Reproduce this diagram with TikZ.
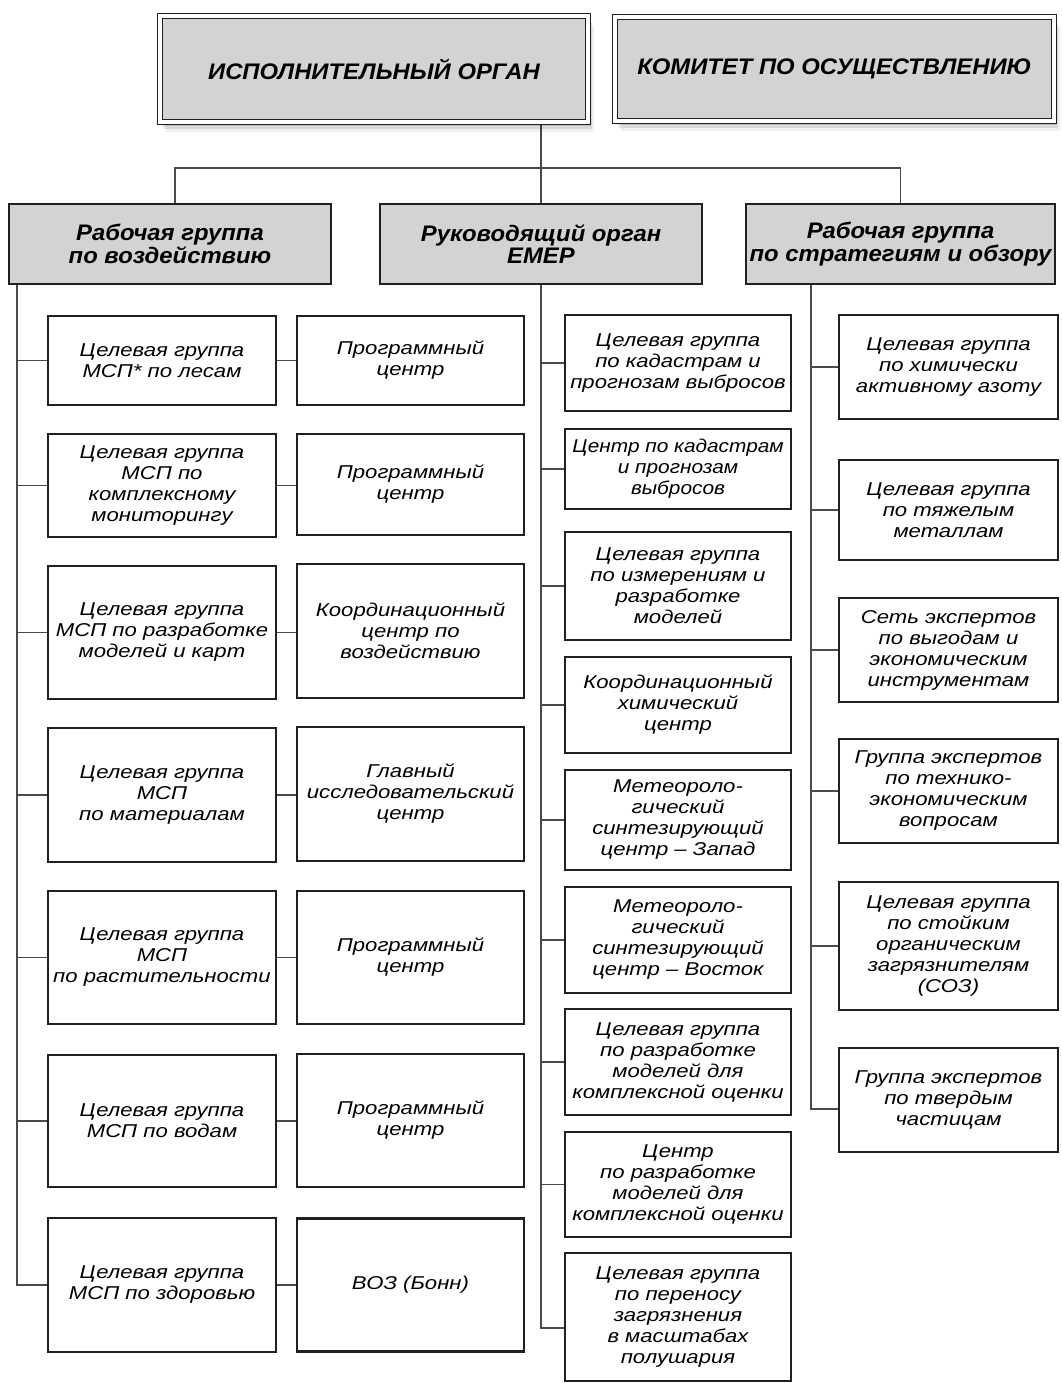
\documentclass[tikz,border=0pt]{standalone}
\usepackage{fontspec}
\setmainfont{Liberation Sans}
\newfontfamily\wideA{Liberation Sans}[FakeStretch=1.19]
\newfontfamily\wideN{Liberation Sans}[FakeStretch=1.12]
\newfontfamily\wideB{Liberation Sans}[FakeStretch=1.06]
\usetikzlibrary{shadows}
\definecolor{dark}{HTML}{231F20}
\definecolor{boxgray}{HTML}{D1D3D4}
\definecolor{linegray}{HTML}{4A4A4A}
\pgfdeclarelayer{background}
\pgfsetlayers{background,main}
\tikzset{
  leaf/.style={draw=dark, line width=2.6pt, fill=white, inner sep=0pt, outer sep=0pt,
    align=center, font=\wideA\itshape\fontsize{18.6}{21}\selectfont},
  narrowleaf/.style={leaf, font=\wideN\itshape\fontsize{18.6}{21}\selectfont},
  grp/.style={draw=dark, line width=2.8pt, fill=boxgray, inner sep=0pt, outer sep=0pt,
    align=center, font=\wideB\bfseries\itshape\fontsize{22.5}{22.5}\selectfont},
  topshadow/.style={
    general shadow={shadow xshift=2pt, shadow yshift=-4pt, fill=black, opacity=0.10},
    general shadow={shadow xshift=4pt, shadow yshift=-7pt, fill=black, opacity=0.10},
    general shadow={shadow xshift=6pt, shadow yshift=-10pt, fill=black, opacity=0.06}},
  topbox/.style={topshadow, draw=dark, line width=1.1pt, double=white, double distance=3.6pt,
    fill=boxgray, inner sep=0pt, outer sep=0pt, align=center,
    font=\wideB\bfseries\itshape\fontsize{22.5}{22}\selectfont},
  conn/.style={draw=linegray, line width=1.3pt},
}
\begin{document}
\begin{tikzpicture}[x=1pt, y=-1pt]
\useasboundingbox (0,0) rectangle (1061,1383);

% top level
\node[topbox, minimum width=428.2pt, minimum height=106.2pt] (exec) at (374,69) {ИСПОЛНИТЕЛЬНЫЙ ОРГАН};
\node[topbox, minimum width=439.2pt, minimum height=104.2pt] (comm) at (834.5,69) {КОМИТЕТ ПО ОСУЩЕСТВЛЕНИЮ};

% second level
\node[grp, minimum width=322pt, minimum height=80pt] (A) at (170,244) {Рабочая группа\\по воздействию};
\node[grp, minimum width=322pt, minimum height=80pt] (B) at (541,244) {Руководящий орган\\ЕМЕР};
\node[grp, minimum width=309pt, minimum height=80pt] (C) at (900.5,244) {Рабочая группа\\по стратегиям и обзору};

% left column
\node[leaf, minimum width=228pt, minimum height=89pt] (L1) at (162,360.5) {Целевая группа\\МСП* по лесам};
\node[leaf, minimum width=228pt, minimum height=103pt] (L2) at (162,485.5) {Целевая группа\\МСП по\\комплексному\\мониторингу};
\node[leaf, minimum width=228pt, minimum height=133pt] (L3) at (162,632.5) {Целевая группа\\МСП по разработке\\моделей и карт};
\node[leaf, minimum width=228pt, minimum height=134pt] (L4) at (162,795) {Целевая группа\\МСП\\по материалам};
\node[leaf, minimum width=228pt, minimum height=133pt] (L5) at (162,957.5) {Целевая группа\\МСП\\по растительности};
\node[leaf, minimum width=228pt, minimum height=132pt] (L6) at (162,1121) {Целевая группа\\МСП по водам};
\node[leaf, minimum width=228pt, minimum height=134pt] (L7) at (162,1285) {Целевая группа\\МСП по здоровью};

\node[leaf, minimum width=227pt, minimum height=89pt] (P1) at (410.5,360.5) {Программный\\центр};
\node[leaf, minimum width=227pt, minimum height=101pt] (P2) at (410.5,484.5) {Программный\\центр};
\node[leaf, minimum width=227pt, minimum height=134pt] (P3) at (410.5,631) {Координационный\\центр по\\воздействию};
\node[leaf, minimum width=227pt, minimum height=134pt] (P4) at (410.5,794) {Главный\\исследовательский\\центр};
\node[leaf, minimum width=227pt, minimum height=133pt] (P5) at (410.5,957.5) {Программный\\центр};
\node[leaf, minimum width=227pt, minimum height=133pt] (P6) at (410.5,1120.5) {Программный\\центр};
\node[leaf, minimum width=227pt, minimum height=133pt] (P7) at (410.5,1285) {ВОЗ (Бонн)};

% middle column
\node[leaf, minimum width=226pt, minimum height=96pt] (M1) at (678,363) {Целевая группа\\по кадастрам и\\прогнозам выбросов};
\node[narrowleaf, minimum width=226pt, minimum height=80pt] (M2) at (678,469) {Центр по кадастрам\\и прогнозам\\выбросов};
\node[leaf, minimum width=226pt, minimum height=108pt] (M3) at (678,586) {Целевая группа\\по измерениям и\\разработке\\моделей};
\node[leaf, minimum width=226pt, minimum height=96pt] (M4) at (678,705) {Координационный\\химический\\центр};
\node[leaf, minimum width=226pt, minimum height=100pt] (M5) at (678,820) {Метеороло-\\гический\\синтезирующий\\центр – Запад};
\node[leaf, minimum width=226pt, minimum height=106pt] (M6) at (678,940) {Метеороло-\\гический\\синтезирующий\\центр – Восток};
\node[leaf, minimum width=226pt, minimum height=106pt] (M7) at (678,1062) {Целевая группа\\по разработке\\моделей для\\комплексной оценки};
\node[leaf, minimum width=226pt, minimum height=105pt] (M8) at (678,1184.5) {Центр\\по разработке\\моделей для\\комплексной оценки};
\node[leaf, minimum width=226pt, minimum height=128pt] (M9) at (678,1317) {Целевая группа\\по переносу\\загрязнения\\в масштабах\\полушария};

% right column
\node[leaf, minimum width=219pt, minimum height=104pt] (R1) at (948.5,367) {Целевая группа\\по химически\\активному азоту};
\node[leaf, minimum width=219pt, minimum height=100pt] (R2) at (948.5,510) {Целевая группа\\по тяжелым\\металлам};
\node[leaf, minimum width=219pt, minimum height=104pt] (R3) at (948.5,650) {Сеть экспертов\\по выгодам и\\экономическим\\инструментам};
\node[leaf, minimum width=219pt, minimum height=104pt] (R4) at (948.5,791) {Группа экспертов\\по технико-\\экономическим\\вопросам};
\node[leaf, minimum width=219pt, minimum height=128pt] (R5) at (948.5,946) {Целевая группа\\по стойким\\органическим\\загрязнителям\\(СОЗ)};
\node[leaf, minimum width=219pt, minimum height=104pt] (R6) at (948.5,1100) {Группа экспертов\\по твердым\\частицам};

% hubs
\coordinate (hub) at (541,168);
\coordinate (ltop) at ([xshift=8pt]A.south west);
\coordinate (mtop) at (B.south);
\coordinate (rtop) at ([xshift=65pt]C.south west);

\begin{pgfonlayer}{background}
\fill[white] (0,0) rectangle (1061,1383);
\draw[conn] (exec.south -| B.north) -- (B.north);
\draw[conn] ([xshift=5pt]A.north) |- (hub) -| (C.north);
% left trunk
\draw[conn] (ltop) |- (L7.west);
\foreach \n in {L1,L2,L3,L4,L5,L6} { \draw[conn] (\n.west) -- (\n.west -| ltop); }
\foreach \n/\m in {L1/P1,L2/P2,L3/P3,L4/P4,L5/P5,L6/P6,L7/P7} { \draw[conn] (\n.east) -- (\n.east -| \m.west); }
% middle trunk
\draw[conn] (mtop) |- ([yshift=-11pt]M9.west);
\foreach \n in {M1,M2,M3,M4,M5,M6,M7,M8} { \draw[conn] (\n.west) -- (\n.west -| mtop); }
% right trunk
\draw[conn] (rtop) |- ([yshift=-9pt]R6.west);
\foreach \n in {R1,R2,R3,R4,R5} { \draw[conn] (\n.west) -- (\n.west -| rtop); }
\end{pgfonlayer}
\end{tikzpicture}
\end{document}
